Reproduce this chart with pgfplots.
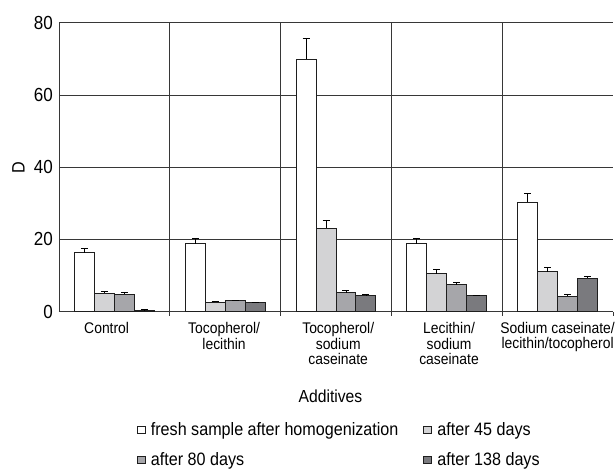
\documentclass[border=0pt]{standalone}
\usepackage{pgfplots}
\pgfplotsset{compat=1.18}
\usepackage{fontspec}
\setmainfont[FakeStretch=0.9]{Liberation Sans}
\definecolor{g1}{RGB}{211,211,213}
\definecolor{g2}{RGB}{166,166,170}
\definecolor{g3}{RGB}{122,122,126}
\definecolor{edge}{RGB}{30,30,30}
\definecolor{gridc}{RGB}{55,55,55}
\begin{document}
\begin{tikzpicture}
\path[use as bounding box] (-59bp,-159.3bp) rectangle (557bp,311.7bp);
\begin{axis}[
  at={(0,0)}, anchor=south west,
  scale only axis, width=554bp, height=289bp,
  ybar=0pt, bar width=0.18,
  xmin=-0.5, xmax=4.5, ymin=0, ymax=80,
  ytick={0,20,40,60,80},
  ymajorgrids,
  major grid style={draw=gridc, line width=0.7bp},
  minor grid style={draw=gridc, line width=0.7bp},
  xtick={-0.07,0.99,2.02,3.02,4.0},
  xticklabels={Control,{Tocopherol/\\lecithin},{Tocopherol/\\sodium\\caseinate},{Lecithin/\\sodium\\caseinate},{Sodium caseinate/\\[-1bp]lecithin/tocopherol}},
  minor xtick={0.5,1.5,2.5,3.5},
  xminorgrids,
  major tick length=0pt,
  minor tick length=4bp,
  tick align=outside,
  tick style={draw=gridc, line width=0.7bp},
  extra x ticks={4.5}, extra x tick labels={},
  extra x tick style={grid=none, major tick length=4bp},
  axis x line*=bottom, axis y line*=left,
  axis line style={draw=gridc, line width=0.8bp},
  /pgf/number format/assume math mode=true,
  yticklabel style={font=\fontsize{19}{20}\selectfont, inner sep=1bp, xshift=-5bp},
  xticklabel style={font=\fontsize{15.5}{16}\selectfont, align=center, anchor=north, inner sep=0pt, yshift=-10bp},
  xlabel={Additives},
  xlabel style={font=\fontsize{17.5}{20}\selectfont, at={(axis description cs:0.49,0)}, anchor=base, yshift=-90.5bp},
  ylabel={D},
  ylabel style={font=\fontsize{18}{20}\selectfont, at={(axis description cs:-0.0731,0.5)}, anchor=center},
  legend columns=2,
  legend cell align=left,
  legend image code/.code={\draw[#1, line width=0.8bp] (0bp,-3.5bp) rectangle (8bp,3.5bp); \path (11bp,0bp);},
  legend style={draw=none, fill=none, at={(axis description cs:0.135,-0.37)}, anchor=north west,
    font=\fontsize{18}{20}\selectfont, row sep=11bp,
    /tikz/every even column/.append style={column sep=23bp}},
]
\addplot[fill=white, draw=edge, line width=1bp,
  error bars/.cd, y dir=plus, y explicit,
  error bar style={draw=black, line width=0.8bp},
  error mark options={rotate=90, draw=black, line width=0.8bp, mark size=3.5bp}]
  coordinates {(0,16.25) +- (0,1.25) (1,18.8) +- (0,1.6) (2,69.9) +- (0,5.7) (3,18.8) +- (0,1.6) (4,30.3) +- (0,2.5)};
\addplot[fill=g1, draw=edge, line width=1bp,
  error bars/.cd, y dir=plus, y explicit,
  error bar style={draw=black, line width=0.8bp},
  error mark options={rotate=90, draw=black, line width=0.8bp, mark size=3.5bp}]
  coordinates {(0,5.1) +- (0,0.5) (1,2.6) +- (0,0.3) (2,23.1) +- (0,2.3) (3,10.5) +- (0,1.2) (4,11.0) +- (0,1.3)};
\addplot[fill=g2, draw=edge, line width=1bp,
  error bars/.cd, y dir=plus, y explicit,
  error bar style={draw=black, line width=0.8bp},
  error mark options={rotate=90, draw=black, line width=0.8bp, mark size=3.5bp}]
  coordinates {(0,4.9) +- (0,0.5) (1,3.0) +- (0,0.2) (2,5.3) +- (0,0.5) (3,7.4) +- (0,0.7) (4,4.3) +- (0,0.4)};
\addplot[fill=g3, draw=edge, line width=1bp,
  error bars/.cd, y dir=plus, y explicit,
  error bar style={draw=black, line width=0.8bp},
  error mark options={rotate=90, draw=black, line width=0.8bp, mark size=3.5bp}]
  coordinates {(0,0.4) +- (0,0.1) (1,2.5) +- (0,0.1) (2,4.5) +- (0,0.2) (3,4.4) +- (0,0.2) (4,9.2) +- (0,0.6)};
\legend{fresh sample after homogenization, after 45 days, after 80 days, after 138 days}
\end{axis}
\end{tikzpicture}
\end{document}
